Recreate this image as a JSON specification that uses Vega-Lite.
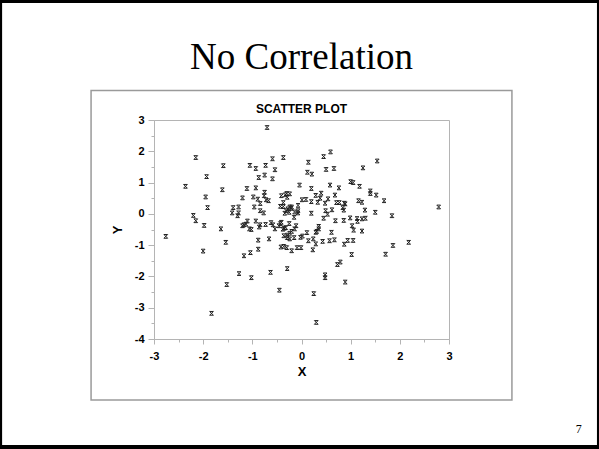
{
  "$schema": "https://vega.github.io/schema/vega-lite/v6.json",
  "width": 295,
  "height": 219,
  "autosize": {"type": "none"},
  "padding": {"left": 154, "top": 120, "right": 150, "bottom": 110},
  "background": "white",
  "title": {
    "text": "No Correlation",
    "subtitle": "SCATTER PLOT",
    "font": "Liberation Serif",
    "fontSize": 37,
    "fontWeight": "normal",
    "color": "black",
    "subtitleFont": "Liberation Sans",
    "subtitleFontSize": 12,
    "subtitleFontWeight": "bold",
    "subtitleColor": "black",
    "subtitlePadding": 27,
    "anchor": "middle",
    "offset": 8,
    "dy": 125
  },
  "config": {
    "view": {"stroke": "#b4b4b4", "strokeWidth": 1},
    "axis": {
      "grid": false,
      "domainColor": "#b4b4b4",
      "tickColor": "#b4b4b4",
      "labelFont": "Liberation Sans",
      "labelFontWeight": "bold",
      "labelFontSize": 11,
      "labelColor": "black",
      "labelFlush": false,
      "labelOverlap": false,
      "labelExpr": "replace(datum.label, '\u2212', '-')",
      "titleFont": "Liberation Sans",
      "titleFontWeight": "bold",
      "titleFontSize": 13,
      "titleColor": "black"
    }
  },
  "datasets": {
    "one": [{}],
    "pts": [
      {"x": -0.70, "y": 2.76}, {"x": -2.15, "y": 1.80}, {"x": -1.59, "y": 1.54}, {"x": -1.93, "y": 1.19},
      {"x": -2.36, "y": 0.88}, {"x": -1.61, "y": 0.77}, {"x": -1.95, "y": 0.54}, {"x": -1.91, "y": 0.20},
      {"x": -2.20, "y": -0.05}, {"x": -2.15, "y": -0.22}, {"x": -1.98, "y": -0.37}, {"x": -2.76, "y": -0.72},
      {"x": -1.64, "y": -0.48}, {"x": -1.54, "y": -0.91}, {"x": -2.00, "y": -1.19}, {"x": -1.52, "y": -2.26},
      {"x": -1.83, "y": -3.18}, {"x": -1.27, "y": -1.91}, {"x": -1.02, "y": -2.04}, {"x": -0.63, "y": -1.87},
      {"x": -0.45, "y": -2.44}, {"x": -0.29, "y": -1.75}, {"x": 0.25, "y": -2.55}, {"x": 0.30, "y": -3.47},
      {"x": 0.48, "y": -1.95}, {"x": 0.48, "y": -2.04}, {"x": 0.73, "y": -1.62}, {"x": 0.79, "y": -1.54},
      {"x": 0.89, "y": -2.18}, {"x": 1.02, "y": -1.30}, {"x": 1.71, "y": -1.29}, {"x": 1.86, "y": -1.01},
      {"x": 2.18, "y": -0.91}, {"x": 2.79, "y": 0.22}, {"x": 1.84, "y": -0.06}, {"x": 1.68, "y": 0.42},
      {"x": 1.50, "y": 0.05}, {"x": 1.52, "y": 0.60}, {"x": 1.54, "y": 1.69}, {"x": 1.25, "y": 1.47},
      {"x": 1.18, "y": 0.88}, {"x": 1.40, "y": 0.73}, {"x": 1.40, "y": 0.65}, {"x": 1.00, "y": 1.03},
      {"x": 1.05, "y": 1.00}, {"x": 0.59, "y": 1.98}, {"x": 0.45, "y": 1.83}, {"x": 0.50, "y": 1.42},
      {"x": 0.66, "y": 1.45}, {"x": 0.14, "y": 1.65}, {"x": 0.12, "y": 1.33}, {"x": 0.21, "y": 1.27},
      {"x": -0.04, "y": 0.92}, {"x": 0.20, "y": 0.81}, {"x": 0.58, "y": 0.92}, {"x": 0.76, "y": 0.83},
      {"x": 0.68, "y": 0.60}, {"x": -0.37, "y": 1.80}, {"x": -0.59, "y": 1.76}, {"x": -0.73, "y": 1.55},
      {"x": -0.54, "y": 1.41}, {"x": -1.05, "y": 1.55}, {"x": -0.93, "y": 1.45}, {"x": -0.87, "y": 1.16},
      {"x": -0.75, "y": 1.24}, {"x": -0.59, "y": 1.12}, {"x": -1.11, "y": 0.81}, {"x": -0.93, "y": 0.83},
      {"x": -1.20, "y": 0.51}, {"x": -0.98, "y": 0.54}, {"x": -0.89, "y": 0.47}, {"x": -0.75, "y": 0.69},
      {"x": -0.76, "y": 0.58}, {"x": -0.72, "y": 0.45}, {"x": -0.67, "y": 0.42}, {"x": -0.84, "y": 0.33},
      {"x": -1.28, "y": 0.22}, {"x": -1.39, "y": 0.20}, {"x": -1.41, "y": 0.03}, {"x": -1.28, "y": 0.03},
      {"x": -1.30, "y": -0.06}, {"x": -0.96, "y": 0.22}, {"x": -0.84, "y": 0.10}, {"x": -0.77, "y": 0.03},
      {"x": -1.10, "y": -0.23}, {"x": -1.13, "y": -0.33}, {"x": -1.20, "y": -0.38}, {"x": -1.17, "y": -0.35},
      {"x": -1.06, "y": -0.48}, {"x": -1.02, "y": -0.50}, {"x": -0.93, "y": -0.23}, {"x": -0.86, "y": -0.42},
      {"x": -0.84, "y": -0.35}, {"x": -0.73, "y": -0.34}, {"x": -0.62, "y": -0.28}, {"x": -0.58, "y": -0.35},
      {"x": -0.88, "y": -0.84}, {"x": -0.88, "y": -1.13}, {"x": -1.04, "y": -1.24}, {"x": -1.17, "y": -1.34},
      {"x": -0.66, "y": -0.80}, {"x": -0.54, "y": -0.48}, {"x": -0.46, "y": -0.38}, {"x": -0.43, "y": -0.31},
      {"x": -0.41, "y": -0.27}, {"x": -0.38, "y": -0.49}, {"x": -0.35, "y": -0.46}, {"x": -0.42, "y": -1.06},
      {"x": -0.36, "y": -1.04}, {"x": -0.30, "y": -1.08}, {"x": -0.20, "y": -1.18}, {"x": -0.09, "y": -1.08},
      {"x": -0.01, "y": -1.08}, {"x": -0.36, "y": -0.70}, {"x": -0.29, "y": -0.68}, {"x": -0.29, "y": -0.76},
      {"x": -0.24, "y": -0.62}, {"x": -0.20, "y": -0.56}, {"x": -0.24, "y": -0.80}, {"x": -0.15, "y": -0.76},
      {"x": -0.14, "y": -0.48}, {"x": -0.11, "y": -0.38}, {"x": -0.32, "y": -0.44}, {"x": -0.25, "y": -0.31},
      {"x": -0.02, "y": -0.75}, {"x": 0.02, "y": -0.71}, {"x": 0.11, "y": -0.60}, {"x": 0.24, "y": -0.80},
      {"x": 0.14, "y": -0.86}, {"x": 0.29, "y": -0.96}, {"x": 0.23, "y": -1.15}, {"x": 0.29, "y": -0.59},
      {"x": 0.31, "y": -0.56}, {"x": 0.35, "y": -0.48}, {"x": 0.35, "y": -0.40}, {"x": 0.43, "y": -0.88},
      {"x": 0.57, "y": -0.86}, {"x": 0.61, "y": -0.59}, {"x": 0.67, "y": -0.83}, {"x": 0.45, "y": -0.14},
      {"x": 0.49, "y": 0.10}, {"x": 0.53, "y": -0.01}, {"x": 0.62, "y": 0.13}, {"x": 0.69, "y": -0.22},
      {"x": 0.86, "y": -0.21}, {"x": 0.87, "y": -0.97}, {"x": 0.94, "y": -0.85}, {"x": 1.05, "y": -0.85},
      {"x": 1.03, "y": -0.38}, {"x": 1.06, "y": -0.52}, {"x": 0.99, "y": -0.13}, {"x": 1.13, "y": -0.15},
      {"x": 1.14, "y": -0.24}, {"x": 1.23, "y": -0.16}, {"x": 1.30, "y": -0.14}, {"x": 1.23, "y": -0.55},
      {"x": 1.29, "y": 0.12}, {"x": 1.16, "y": 0.42}, {"x": 1.23, "y": 0.37}, {"x": 0.86, "y": 0.12},
      {"x": 0.84, "y": 0.20}, {"x": 0.89, "y": 0.32}, {"x": 0.87, "y": 0.34}, {"x": 0.77, "y": 0.36},
      {"x": 0.71, "y": 0.36}, {"x": 0.54, "y": 0.48}, {"x": 0.48, "y": 0.34}, {"x": 0.40, "y": 0.66},
      {"x": 0.33, "y": 0.37}, {"x": 0.29, "y": 0.59}, {"x": 0.38, "y": 0.50}, {"x": 0.20, "y": 0.02},
      {"x": 0.20, "y": 0.39}, {"x": 0.09, "y": 0.46}, {"x": 0.01, "y": 0.45}, {"x": -0.07, "y": 0.27},
      {"x": -0.07, "y": 0.10}, {"x": -0.07, "y": 0.03}, {"x": -0.14, "y": 0.06}, {"x": -0.15, "y": -0.11},
      {"x": -0.21, "y": 0.18}, {"x": -0.24, "y": 0.22}, {"x": -0.20, "y": 0.22}, {"x": -0.28, "y": 0.16},
      {"x": -0.25, "y": 0.05}, {"x": -0.31, "y": 0.10}, {"x": -0.34, "y": 0.02}, {"x": -0.37, "y": 0.23},
      {"x": -0.43, "y": 0.24}, {"x": -0.41, "y": 0.58}, {"x": -0.33, "y": 0.61}, {"x": -0.30, "y": 0.65},
      {"x": -0.24, "y": 0.64}, {"x": -0.29, "y": 0.53}, {"x": -0.37, "y": 0.36}
    ]
  },
  "layer": [
    {
      "data": {"name": "one"},
      "mark": {"type": "rect", "fillOpacity": 0, "stroke": "black", "strokeWidth": 4, "clip": false},
      "encoding": {
        "x": {"datum": -6.13, "type": "quantitative", "scale": {"domain": [-3, 3], "nice": false, "zero": false}, "axis": null},
        "x2": {"datum": 6.05},
        "y": {"datum": 6.80, "type": "quantitative", "scale": {"domain": [-4, 3], "nice": false, "zero": false}, "axis": null},
        "y2": {"datum": -7.45}
      }
    },
    {
      "data": {"name": "one"},
      "mark": {"type": "rect", "fillOpacity": 0, "stroke": "#9a9a9a", "strokeWidth": 1.5, "clip": false},
      "encoding": {
        "x": {"datum": -4.28, "type": "quantitative", "scale": {"domain": [-3, 3], "nice": false, "zero": false}, "axis": null},
        "x2": {"datum": 4.28},
        "y": {"datum": 3.94, "type": "quantitative", "scale": {"domain": [-4, 3], "nice": false, "zero": false}, "axis": null},
        "y2": {"datum": -5.95}
      }
    },
    {
      "data": {"name": "one"},
      "mark": {"type": "text", "font": "Liberation Serif", "fontSize": 12, "color": "black", "align": "center", "baseline": "middle", "clip": false},
      "encoding": {
        "x": {"datum": 5.64, "type": "quantitative", "scale": {"domain": [-3, 3], "nice": false, "zero": false}, "axis": null},
        "y": {"datum": -6.88, "type": "quantitative", "scale": {"domain": [-4, 3], "nice": false, "zero": false}, "axis": null},
        "text": {"value": "7"}
      }
    },
    {
      "data": {"name": "one"},
      "mark": {"type": "rect", "opacity": 0, "clip": false},
      "encoding": {
        "x": {"datum": -3, "type": "quantitative", "scale": {"domain": [-3, 3], "nice": false, "zero": false},
              "axis": {"orient": "bottom", "values": [-2.5, -1.5, -0.5, 0.5, 1.5, 2.5], "tickSize": 3, "labels": false, "domain": false, "title": null}},
        "x2": {"datum": 3},
        "y": {"datum": -4, "type": "quantitative", "scale": {"domain": [-4, 3], "nice": false, "zero": false},
              "axis": {"orient": "left", "values": [-3.5, -2.5, -1.5, -0.5, 0.5, 1.5, 2.5], "tickSize": 3, "labels": false, "domain": false, "title": null}},
        "y2": {"datum": 3}
      }
    },
    {
      "data": {"name": "pts"},
      "mark": {"type": "point", "shape": "M-1,-1L1,1M1,-1L-1,1M-1,-1H1M-1,1H1", "filled": false, "stroke": "#222222", "strokeWidth": 1, "size": 14, "opacity": 1},
      "encoding": {
        "x": {"field": "x", "type": "quantitative", "scale": {"domain": [-3, 3], "nice": false, "zero": false},
              "axis": {"orient": "bottom", "values": [-3, -2, -1, 0, 1, 2, 3], "tickSize": 5, "labelPadding": 6, "title": "X", "titlePadding": 4}},
        "y": {"field": "y", "type": "quantitative", "scale": {"domain": [-4, 3], "nice": false, "zero": false},
              "axis": {"orient": "left", "values": [-4, -3, -2, -1, 0, 1, 2, 3], "tickSize": 6, "labelPadding": 4, "title": "Y", "titlePadding": 10}}
      }
    }
  ],
  "resolve": {"axis": {"x": "independent", "y": "independent"}}
}
